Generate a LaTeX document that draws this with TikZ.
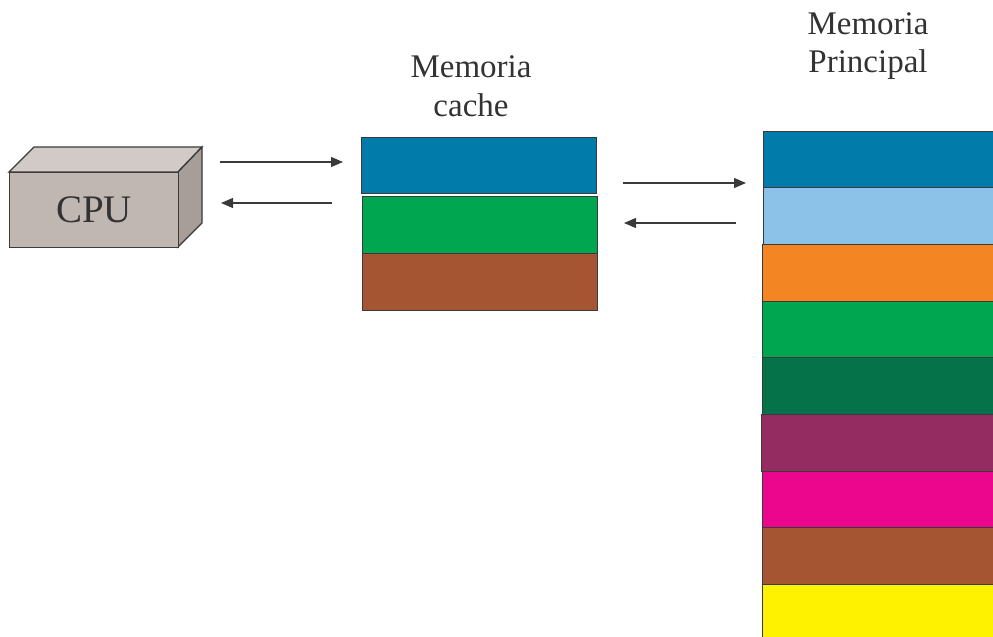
\documentclass[tikz,border=0pt]{standalone}
\usepackage{fontspec}
\setmainfont{Liberation Serif}
\usetikzlibrary{arrows.meta}
\definecolor{mblue}{HTML}{007BAA}
\definecolor{mlblue}{HTML}{8CC1E8}
\definecolor{morange}{HTML}{F38522}
\definecolor{mgreen}{HTML}{00A650}
\definecolor{mdgreen}{HTML}{067249}
\definecolor{mpurple}{HTML}{952C61}
\definecolor{mmagenta}{HTML}{EC068D}
\definecolor{mbrown}{HTML}{A65532}
\definecolor{myellow}{HTML}{FFF200}
\definecolor{edge}{HTML}{3A3A3A}
\definecolor{cpufront}{HTML}{C0B7B3}
\definecolor{cputop}{HTML}{D2CAC7}
\definecolor{cpuside}{HTML}{A79E9A}
\definecolor{txt}{HTML}{333333}
\begin{document}
\begin{tikzpicture}[x=1pt,y=-1pt,
  blk/.style={draw=edge,line width=1.3pt},
  conn/.style={draw=edge,line width=1.2pt,-{Triangle[length=12pt,width=10pt]}},
  lbl/.style={font=\fontsize{33}{38.5}\selectfont,text=txt,align=center,inner sep=0pt}]
\useasboundingbox (0,0) rectangle (993,637);
\clip (0,0) rectangle (993,637);
% CPU
\fill[cputop,draw=edge,line width=1.3pt] (9,172) -- (34,147) -- (202,147) -- (178,172) -- cycle;
\fill[cpuside,draw=edge,line width=1.3pt] (178,172) -- (202,147) -- (202,223) -- (178,247) -- cycle;
\node[blk,fill=cpufront,minimum width=169pt,minimum height=75pt,anchor=north west,inner sep=0pt,
  font=\fontsize{39}{40}\selectfont,text=txt] (cpu) at (9,172) {CPU};
% cache
\node[lbl] (lcache) at (471,86) {Memoria\\cache};
\node[blk,fill=mblue,anchor=north west,minimum width=235pt,minimum height=56pt,inner sep=0pt] (c1) at (361,137) {};
\node[blk,fill=mgreen,anchor=north west,minimum width=235pt,minimum height=57pt,inner sep=0pt] (c2) at (362,196) {};
\node[blk,fill=mbrown,anchor=north west,minimum width=235pt,minimum height=57pt,inner sep=0pt] (c3) at (362,253) {};
% main memory
\node[lbl] (lmain) at (868,46) {Memoria\\Principal};
\node[blk,fill=mblue,anchor=north west,minimum width=260pt,minimum height=56pt,inner sep=0pt] (m1) at (763,131) {};
\node[blk,fill=mlblue,anchor=north west,minimum width=260pt,minimum height=57pt,inner sep=0pt] (m2) at (763,187) {};
\node[blk,fill=morange,anchor=north west,minimum width=260pt,minimum height=57pt,inner sep=0pt] (m3) at (762,244) {};
\node[blk,fill=mgreen,anchor=north west,minimum width=260pt,minimum height=56pt,inner sep=0pt] (m4) at (762,301) {};
\node[blk,fill=mdgreen,anchor=north west,minimum width=260pt,minimum height=57pt,inner sep=0pt] (m5) at (762,357) {};
\node[blk,fill=mpurple,anchor=north west,minimum width=260pt,minimum height=57pt,inner sep=0pt] (m6) at (761,414) {};
\node[blk,fill=mmagenta,anchor=north west,minimum width=260pt,minimum height=56pt,inner sep=0pt] (m7) at (762,471) {};
\node[blk,fill=mbrown,anchor=north west,minimum width=260pt,minimum height=57pt,inner sep=0pt] (m8) at (762,527) {};
\node[blk,fill=myellow,anchor=north west,minimum width=260pt,minimum height=70pt,inner sep=0pt] (m9) at (762,584) {};
% arrow endpoints
\coordinate (a1s) at (220,162); \coordinate (a1e) at (343,162);
\coordinate (a2s) at (332,203); \coordinate (a2e) at (221,203);
\coordinate (a3s) at (623,183); \coordinate (a3e) at (746,183);
\coordinate (a4s) at (736,223); \coordinate (a4e) at (624,223);
\draw[conn] (a1s) -- (a1e);
\draw[conn] (a2s) -- (a2e);
\draw[conn] (a3s) -- (a3e);
\draw[conn] (a4s) -- (a4e);
\end{tikzpicture}
\end{document}
